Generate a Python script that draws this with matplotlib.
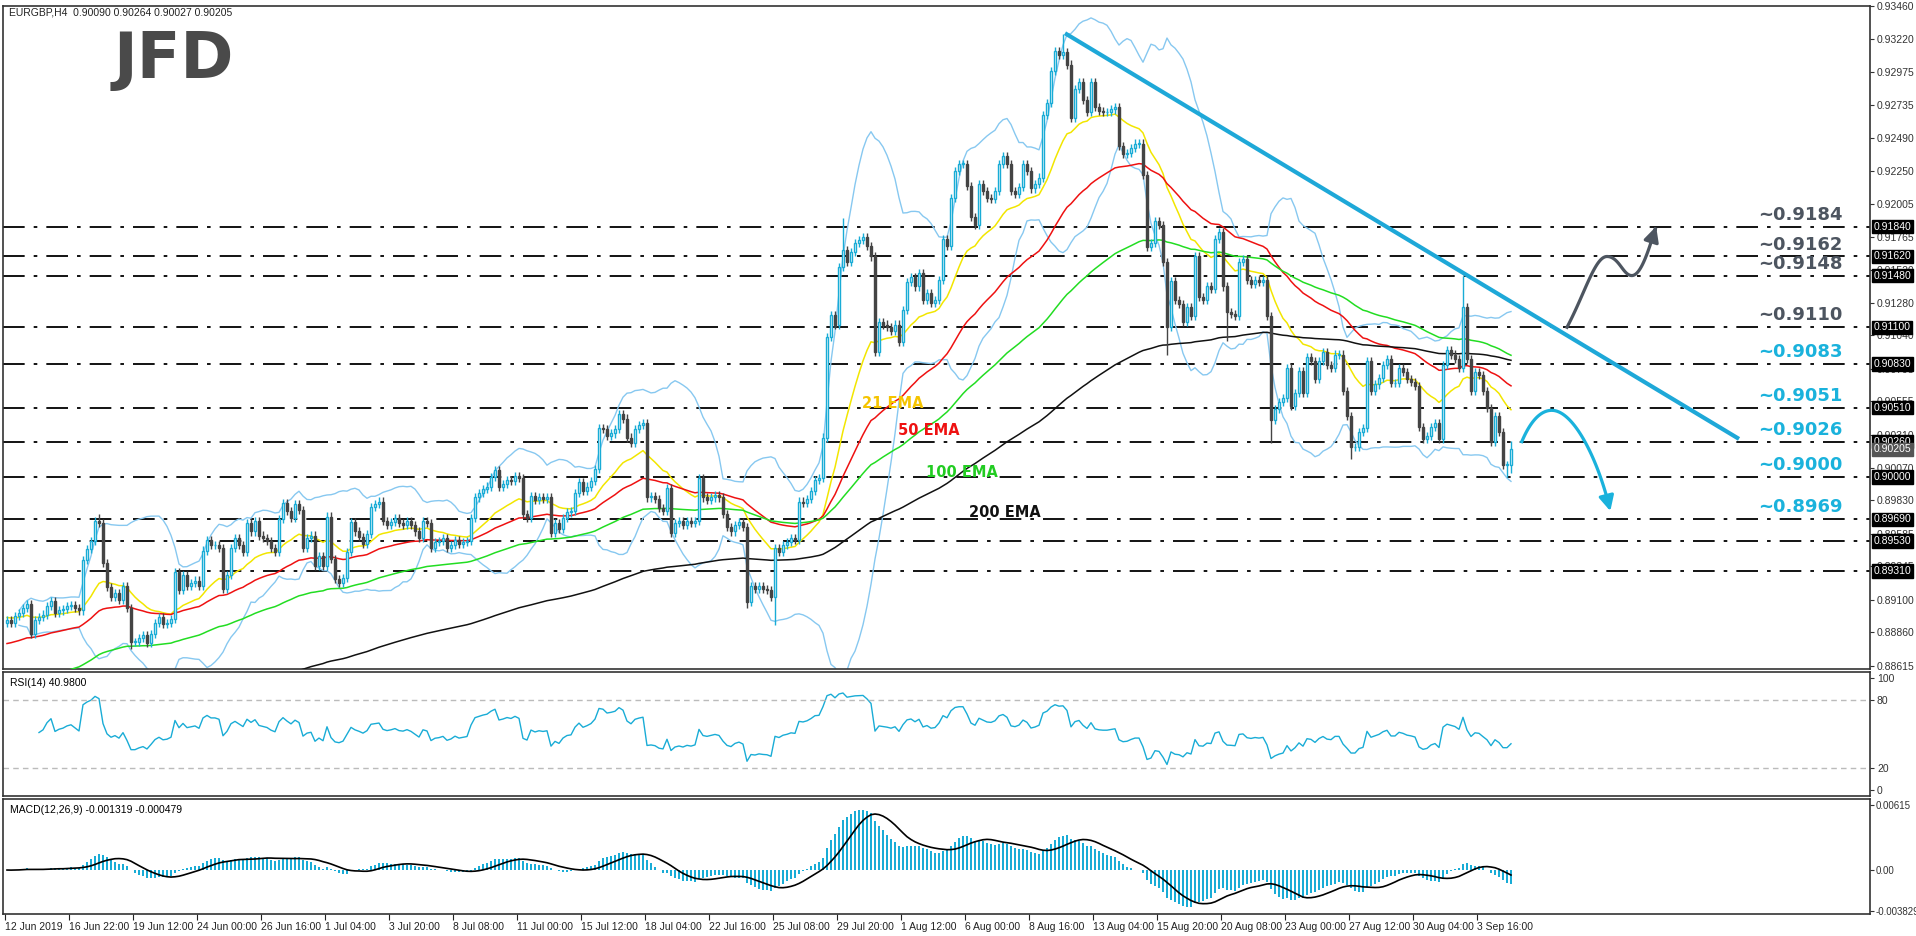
import numpy as np
import pandas as pd
import matplotlib
matplotlib.use("Agg")
import matplotlib.pyplot as plt
import matplotlib.transforms as mtransforms

plt.rcParams['font.family'] = ['Liberation Sans', 'DejaVu Sans']

# ---------------- data ----------------
closes = [
 0.8895,0.8893,0.8898,0.8900,0.8904,0.8907,0.8885,0.8895,0.8897,0.8899,0.8905,0.8909,0.8900,0.8902,0.8903,0.8905,0.8906,0.8904,0.8902,
 0.8939,0.8947,0.8953,0.8968,0.8966,0.8937,0.8919,0.8912,0.8915,0.8910,
 0.8920,0.8904,0.8879,0.8879,0.8882,0.8884,0.8878,0.8885,0.8893,0.8897,
 0.8892,0.8893,0.8896,0.8930,0.8917,0.8928,0.8920,0.8922,0.8924,0.8920,
 0.8946,0.8954,0.8950,0.8950,0.8948,0.8918,0.8928,0.8948,0.8955,0.8950,
 0.8945,0.8966,0.8960,0.8968,0.8957,0.8955,0.8953,0.8948,0.8945,0.8969,
 0.8981,0.8975,0.8970,0.8980,0.8976,0.8948,0.8955,0.8957,0.8935,0.8942,
 0.8935,0.8971,0.8940,0.8925,0.8922,0.8926,0.8945,0.8967,0.8960,0.8956,
 0.8951,0.8958,0.8978,0.8980,0.8982,0.8968,0.8965,0.8967,0.8970,0.8966,
 0.8965,0.8968,0.8965,0.8960,0.8955,0.8968,0.8966,0.8948,0.8952,0.8953,
 0.8955,0.8948,0.8950,0.8954,0.8951,0.8952,0.8953,0.8970,0.8985,0.8988,
 0.8991,0.8993,0.9000,0.9005,0.8993,
 0.8995,0.8998,0.8997,0.9001,0.8999,0.8973,0.8970,0.8986,0.8983,0.8985,
 0.8984,0.8985,0.8959,0.8966,0.8962,0.8970,0.8974,0.8975,0.8988,0.8996,
 0.8990,0.8993,0.8997,0.9006,0.9036,0.9035,0.9030,0.9032,0.9035,0.9046,
 0.9043,0.9029,0.9025,0.9035,0.9038,0.9040,0.8985,0.8986,0.8984,0.8977,
 0.8975,0.8992,0.8959,0.8966,0.8968,0.8965,0.8968,0.8966,0.8968,0.8999,
 0.8985,0.8983,0.8985,0.8987,0.8985,0.8973,0.8963,0.8960,0.8965,0.8967,
 0.8963,0.8908,0.8920,0.8918,0.8920,0.8918,0.8917,0.8912,0.8948,0.8945,
 0.8950,0.8952,0.8955,0.8954,0.8982,0.8981,0.8984,0.8990,0.8998,0.8999,
 0.9029,0.9103,0.9119,0.9112,0.9154,0.9167,0.9158,0.9165,0.9172,0.9174,
 0.9176,0.9170,0.9162,0.9092,0.9114,
 0.9112,0.9110,0.9107,0.9112,0.9099,0.9123,0.9143,0.9147,0.9140,0.9150,
 0.9130,0.9135,0.9128,0.9130,0.9145,0.9175,0.9170,0.9205,0.9225,0.9230,
 0.9230,0.9214,0.9191,0.9185,0.9215,0.9210,0.9205,0.9204,0.9210,0.9230,
 0.9236,0.9230,0.9210,0.9208,0.9213,0.9230,0.9225,0.9212,0.9215,0.9220,
 0.9266,0.9275,0.9298,0.9313,0.9310,0.9312,0.9303,0.9264,0.9285,0.9290,
 0.9277,0.9268,0.9290,0.9272,0.9269,0.9268,0.9268,0.9270,0.9272,0.9243,
 0.9237,0.9238,0.9242,0.9245,0.9245,0.9222,0.9169,0.9172,0.9188,0.9185,
 0.9158,0.9110,0.9144,0.9130,0.9127,0.9114,0.9125,0.9118,0.9162,0.9132,
 0.9130,0.9140,0.9138,0.9175,0.9180,0.9140,0.9121,0.9120,0.9118,0.9158,
 0.9160,0.9145,0.9142,0.9145,0.9143,0.9145,0.9118,0.9042,0.9050,0.9055,
 0.9058,0.9080,0.9052,0.9062,0.9078,0.9062,0.9088,0.9085,0.9072,0.9085,
 0.9092,0.9082,0.9080,0.9090,0.9090,0.9063,0.9045,0.9022,0.9022,0.9033,
 0.9036,0.9085,0.9063,0.9068,0.9073,0.9082,0.9087,0.9069,0.9069,0.9080,
 0.9077,0.9072,0.9070,0.9067,0.9037,0.9028,0.9030,0.9037,0.9040,0.9028,
 0.9082,0.9093,0.9090,0.9087,0.9080,0.9125,0.9087,0.9063,0.9077,0.9075,
 0.9063,0.9051,0.9026,0.9045,0.9033,0.9009,0.9009,0.90205,
]
first_open = 0.8893
default_wick = 0.0003
notable_highs = {23: 0.8973, 209: 0.9190, 264: 0.93255, 364: 0.9148, 376: 0.90264}
notable_lows = {31: 0.8874, 185: 0.8904, 192: 0.8891, 290: 0.9090, 305: 0.9100,
                316: 0.9025, 336: 0.9013, 375: 0.9000, 376: 0.90027}
ema_periods = [21, 50, 100, 200]
ema_seeds = {21: 0.8897, 50: 0.8877, 100: 0.8842, 200: 0.8780}
ema_colors = {21: '#f2e600', 50: '#ee1111', 100: '#22dd22', 200: '#111111'}

levels = [0.9184, 0.9162, 0.9148, 0.9110, 0.9083, 0.9051, 0.9026, 0.9000, 0.8969, 0.8953, 0.8931]
level_texts = ['~0.9184', '~0.9162', '~0.9148', '~0.9110', '~0.9083', '~0.9051',
               '~0.9026', '~0.9000', '~0.8969', None, None]
level_grey = [True, True, True, True, False, False, False, False, False, False, False]
price_ticks = [0.93460, 0.93220, 0.92975, 0.92735, 0.92490, 0.92250, 0.92005, 0.91765,
               0.91520, 0.91280, 0.91040, 0.90795, 0.90555, 0.90310, 0.90070, 0.89830,
               0.89585, 0.89345, 0.89100, 0.88860, 0.88615]
current_price = 0.90205
date_labels = ['12 Jun 2019', '16 Jun 22:00', '19 Jun 12:00', '24 Jun 00:00', '26 Jun 16:00',
               '1 Jul 04:00', '3 Jul 20:00', '8 Jul 08:00', '11 Jul 00:00', '15 Jul 12:00',
               '18 Jul 04:00', '22 Jul 16:00', '25 Jul 08:00', '29 Jul 20:00', '1 Aug 12:00',
               '6 Aug 00:00', '8 Aug 16:00', '13 Aug 04:00', '15 Aug 20:00', '20 Aug 08:00',
               '23 Aug 00:00', '27 Aug 12:00', '30 Aug 04:00', '3 Sep 16:00']
bars_per_label = 16
trend_start = (264.5, 0.9326)
trend_end = (433.0, 0.9028)
grey_curve = [(390.0, 0.9110), (394.5, 0.9135), (397.0, 0.9162), (400.0, 0.9162),
              (403.0, 0.9162), (404.0, 0.9148), (406.2, 0.9148),
              (408.7, 0.9148), (410.7, 0.9170), (412.5, 0.9186)]
blue_curve = [(378.7, 0.9026), (380.7, 0.9040), (383.2, 0.9049), (386.2, 0.9049),
              (391.9, 0.9049), (398.2, 0.9010), (401.0, 0.8973)]

# ---------------- computations ----------------
c = np.array(closes)
n = len(c)
o = np.concatenate([[first_open], c[:-1]])
h = np.maximum(o, c) + default_wick
l = np.minimum(o, c) - default_wick
for k, v in notable_highs.items():
    h[k] = v
for k, v in notable_lows.items():
    l[k] = v
o[-1] = 0.90090
idx = np.arange(n)
s = pd.Series(c)

def ema(series, p, seed):
    a = 2.0 / (p + 1)
    out = np.empty(len(series)); prev = seed
    for i, v in enumerate(series):
        prev = prev + a * (v - prev); out[i] = prev
    return out

emas = {p: ema(c, p, ema_seeds[p]) for p in ema_periods}
mid = s.rolling(20, min_periods=1).mean()
sd = s.rolling(20, min_periods=1).std(ddof=0)
bb_up = (mid + 2 * sd).values
bb_dn = (mid - 2 * sd).values
bb_up[:3] = np.nan; bb_dn[:3] = np.nan

d = s.diff().fillna(0)
up = d.clip(lower=0).ewm(alpha=1/14, adjust=False).mean()
dn = (-d).clip(lower=0).ewm(alpha=1/14, adjust=False).mean()
rsi = (100 - 100 / (1 + up / dn.replace(0, np.nan))).values
rsi[:8] = np.nan
macd = (s.ewm(span=12, adjust=False).mean() - s.ewm(span=26, adjust=False).mean()).values
signal = pd.Series(macd).rolling(9, min_periods=1).mean().values

# ---------------- figure ----------------
W, H = 1916, 936
fig = plt.figure(figsize=(W/100, H/100), dpi=100)
fig.patch.set_facecolor('white')
def rect(top, bottom, left=3, right=1870):
    return [left/W, 1-bottom/H, (right-left)/W, (bottom-top)/H]
ax = fig.add_axes(rect(6, 669))
ax_r = fig.add_axes(rect(672, 796), sharex=ax)
ax_m = fig.add_axes(rect(799, 914), sharex=ax)
xmin, xmax = -1.0, (1870-7)/4
for a in (ax, ax_r, ax_m):
    a.set_xlim(xmin, xmax)
    for sp in a.spines.values():
        sp.set_color('#333333'); sp.set_linewidth(1.2)
    a.yaxis.tick_right()
    a.tick_params(axis='y', labelsize=7.5, length=3, colors='#333333', pad=2)
    a.tick_params(axis='x', length=0, labelbottom=False)
ax_m.tick_params(axis='y', labelsize=7, pad=1)

ax.set_ylim(0.8859, 0.9346)
ax.set_yticks(price_ticks)
ax.set_yticklabels([f'{t:.5f}' for t in price_ticks])

for lv, txt, g in zip(levels, level_texts, level_grey):
    ax.plot([xmin, xmax], [lv, lv], color='black', lw=1.3, ls=(0, (12, 5, 2, 5)), zorder=1)
    if txt:
        ax.text(459, lv + 0.00022, txt, ha='right', va='bottom', fontsize=13, fontweight='bold',
                color='#4d5560' if g else '#1ab2dc', zorder=6, family='DejaVu Sans')
blend = mtransforms.blended_transform_factory(ax.transAxes, ax.transData)
for lv in levels:
    ax.text(1.002, lv, f'{lv:.5f}', transform=blend, ha='left', va='center', fontsize=7.5,
            color='white', bbox=dict(boxstyle='square,pad=0.15', fc='black', ec='black'),
            zorder=10, clip_on=False)
ax.text(1.002, current_price, f'{current_price:.5f}', transform=blend, ha='left', va='center',
        fontsize=7.5, color='white', bbox=dict(boxstyle='square,pad=0.15', fc='#555555', ec='#555555'),
        zorder=10, clip_on=False)

ax.plot(idx, bb_up, color='#87c8f0', lw=1, zorder=2)
ax.plot(idx, bb_dn, color='#87c8f0', lw=1, zorder=2)
for p in ema_periods:
    ax.plot(idx, emas[p], color=ema_colors[p], lw=1.1, zorder=3)

bull = c >= o
bc, be = '#19acd6', '#444444'
ax.vlines(idx[bull], l[bull], h[bull], color=bc, lw=1, zorder=4)
ax.vlines(idx[~bull], l[~bull], h[~bull], color=be, lw=1, zorder=4)
bh = np.maximum(np.abs(c - o), 0.00004)
ax.bar(idx[bull], bh[bull], bottom=np.minimum(o, c)[bull], width=0.65, color='white',
       edgecolor=bc, lw=1, zorder=5)
ax.bar(idx[~bull], bh[~bull], bottom=np.minimum(o, c)[~bull], width=0.65, color=be,
       edgecolor=be, lw=1, zorder=5)

ax.plot([trend_start[0], trend_end[0]], [trend_start[1], trend_end[1]], color='#1ea8d8', lw=3,
        zorder=6, solid_capstyle='butt')

def bezier_chain(pts, npts=40):
    out = [pts[0]]
    for k in range(0, len(pts) - 1, 3):
        p0, p1, p2, p3 = [np.array(q) for q in pts[k:k+4]]
        t = np.linspace(0, 1, npts)[1:, None]
        seg = (1-t)**3*p0 + 3*(1-t)**2*t*p1 + 3*(1-t)*t**2*p2 + t**3*p3
        out.extend(seg.tolist())
    return np.array(out)

for pts, col in ((grey_curve, '#4d5560'), (blue_curve, '#1ab2dc')):
    cv = bezier_chain(pts)
    ax.plot(cv[:-3, 0], cv[:-3, 1], color=col, lw=2.3, zorder=7)
    ax.annotate('', xy=cv[-1], xytext=cv[-6],
                arrowprops=dict(arrowstyle='-|>,head_length=0.9,head_width=0.45', color=col, lw=2.3),
                zorder=7)

ema_label_pos = {21: (221.5, 0.9054, '#f5c400'), 50: (230.5, 0.9034, '#ee1111'),
                 100: (238.7, 0.9003, '#22cc22'), 200: (249.5, 0.8974, '#111111')}
for p, (xx, yy, col) in ema_label_pos.items():
    ax.text(xx, yy, f'{p} EMA', color=col, fontsize=10.5, fontweight='bold', ha='center',
            va='center', zorder=8, family='DejaVu Sans')

ax.text(0.003, 0.997, 'EURGBP,H4  0.90090 0.90264 0.90027 0.90205', transform=ax.transAxes,
        fontsize=7.5, va='top', ha='left', color='#222222')
fig.text(114/W, 1-78/H, 'JFD', fontsize=46, fontweight='bold', color='#4a4a4a',
         va='baseline', ha='left', family='DejaVu Sans')

ax_r.plot(idx, rsi, color='#19acd6', lw=1)
ax_r.set_ylim(-5.4, 105.4)
ax_r.set_yticks([100, 80, 20, 0]); ax_r.set_yticklabels(['100', '80', '20', '0'])
for lv in (80, 20):
    ax_r.axhline(lv, color='#bbbbbb', lw=1, ls=(0, (4, 3)))
ax_r.text(0.004, 0.95, 'RSI(14) 40.9800', transform=ax_r.transAxes, fontsize=7.5, va='top')

ax_m.bar(idx, macd, width=0.35, color='#19acd6', lw=0)
ax_m.plot(idx, signal, color='black', lw=1.2)
ax_m.set_ylim(-0.00416, 0.00672)
ax_m.set_yticks([0.00615, 0.0, -0.003829]); ax_m.set_yticklabels(['0.00615', '0.00', '-0.003829'])
ax_m.text(0.004, 0.95, 'MACD(12,26,9) -0.001319 -0.000479', transform=ax_m.transAxes,
          fontsize=7.5, va='top')
ticks = [-0.5 + bars_per_label * k for k in range(len(date_labels))]
ax_m.set_xticks(ticks)
ax_m.set_xticklabels(date_labels)
ax_m.tick_params(axis='x', length=4, labelbottom=True, labelsize=7.5, colors='#222222', pad=2)
for t in ax_m.get_xticklabels():
    t.set_ha('left')

fig.savefig('out.png', dpi=100, facecolor='white')
